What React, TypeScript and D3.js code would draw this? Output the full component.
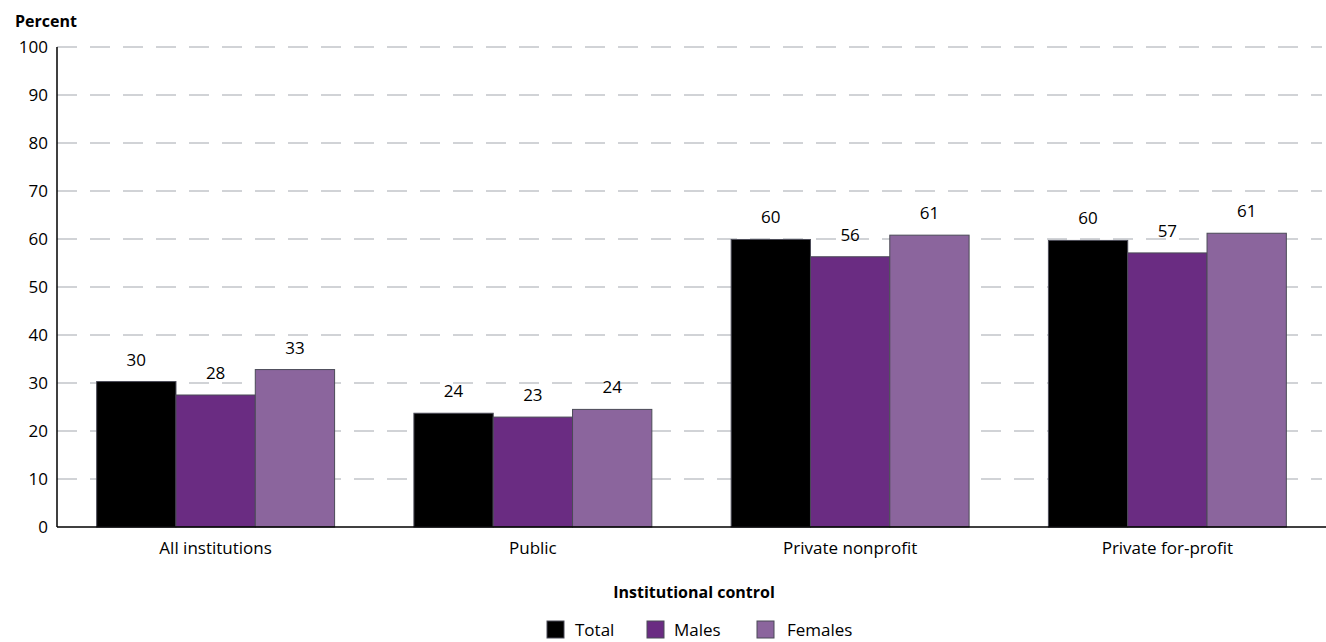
import React from "react";
import * as d3 from "d3";

const categories = ["All institutions", "Public", "Private nonprofit", "Private for-profit"];
const seriesNames = ["Total", "Males", "Females"];
const totalValues = [30.3, 23.7, 59.9, 59.7];
const maleValues = [27.5, 22.9, 56.3, 57.1];
const femaleValues = [32.8, 24.5, 60.8, 61.2];
const labelValues = [
  ["30", "28", "33"],
  ["24", "23", "24"],
  ["60", "56", "61"],
  ["60", "57", "61"],
];
const yTicks = [0, 10, 20, 30, 40, 50, 60, 70, 80, 90, 100];
const colors = ["#000000", "#6a2c82", "#8b659d"];

const W = 1326;
const H = 642;
const FONT = "'Open Sans', sans-serif";

export default function App() {
  const left = 57;
  const right = 1326;
  const top = 47;
  const bottom = 527;
  const x0 = d3.scaleBand<string>().domain(categories).range([left, right]).paddingInner(0.25).paddingOuter(0.125);
  const x1 = d3.scaleBand<string>().domain(seriesNames).range([0, x0.bandwidth()]);
  const y = d3.scaleLinear().domain([0, 100]).range([bottom, top]);
  const series = [totalValues, maleValues, femaleValues];

  return (
    <svg width={W} height={H} style={{ position: "absolute", left: 0, top: 0, fontFamily: FONT }}>
      <rect width={W} height={H} fill="#fff" />
      <text x={15} y={27} fontSize={16} fontWeight="bold" fill="#000">Percent</text>
      {yTicks.map((t) => (
        <g key={t}>
          {t > 0 && (
            <line x1={left} x2={1322} y1={y(t)} y2={y(t)} stroke="#a3a7ae" strokeWidth={1} strokeDasharray="20,13" />
          )}
          <text x={48} y={y(t)} dy="0.36em" textAnchor="end" fontSize={17} fill="#000">{t}</text>
        </g>
      ))}
      {categories.map((c, i) => (
        <g key={c} transform={`translate(${x0(c)},0)`}>
          {seriesNames.map((s, j) => {
            const v = series[j][i];
            const bx = x1(s)!;
            return (
              <g key={s}>
                <rect x={bx} y={y(v)} width={x1.bandwidth()} height={y(0) - y(v)} fill={colors[j]} stroke="#4b4b57" strokeWidth={1} />
                <text x={bx + x1.bandwidth() / 2} y={y(v) - 16} textAnchor="middle" fontSize={17} fill="#000">{labelValues[i][j]}</text>
              </g>
            );
          })}
          <text x={x0.bandwidth() / 2} y={554} textAnchor="middle" fontSize={17} fill="#000">{c}</text>
        </g>
      ))}
      <line x1={left} x2={left} y1={top} y2={bottom} stroke="#000" strokeWidth={1.5} />
      <line x1={left} x2={right} y1={bottom} y2={bottom} stroke="#000" strokeWidth={1.5} />
      <text x={694} y={598} textAnchor="middle" fontSize={16} fontWeight="bold" fill="#000">Institutional control</text>
      {seriesNames.map((s, j) => {
        const lx = [547, 647, 757][j];
        const tx = [575, 674, 787][j];
        return (
          <g key={s}>
            <rect x={lx} y={621} width={17} height={17} fill={colors[j]} stroke="#4b4b57" strokeWidth={1} />
            <text x={tx} y={636} fontSize={17} fill="#000">{s}</text>
          </g>
        );
      })}
    </svg>
  );
}
